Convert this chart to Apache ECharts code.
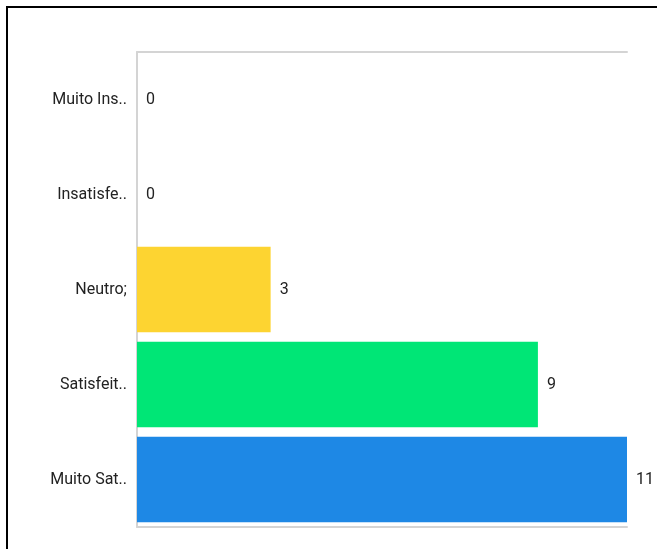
<!DOCTYPE html>
<html>
<head>
<meta charset="utf-8">
<script src="https://cdn.jsdelivr.net/npm/echarts@6/dist/echarts.min.js"></script>
<style>
html,body{margin:0;padding:0;width:657px;height:549px;overflow:hidden;background:#fff;}
#frame{position:absolute;left:6px;top:6px;width:700px;height:600px;border:2px solid #000;box-sizing:border-box;}
#chart{position:absolute;left:0;top:0;width:657px;height:549px;}
</style>
</head>
<body>
<div id="frame"></div>
<div id="chart"></div>
<script>
const categories = ["Muito Ins..", "Insatisfe..", "Neutro;", "Satisfeit..", "Muito Sat.."];
const values = [0, 0, 3, 9, 11];
const barColors = ["#E53935", "#FF8A65", "#FDD431", "#00E676", "#1E88E5"];

const chart = echarts.init(document.getElementById('chart'));
const axisLineStyle = {lineStyle: {color: '#d4d4d4', width: 2}};
chart.setOption({
  animation: false,
  grid: {left: 137, right: 30, top: 52, bottom: 22},
  xAxis: [
    {type: 'value', position: 'bottom', min: 0, max: 11, axisLine: {show: true, ...axisLineStyle}, axisTick: {show: false}, axisLabel: {show: false}, splitLine: {show: false}},
    {type: 'value', position: 'top', min: 0, max: 11, axisLine: {show: true, ...axisLineStyle}, axisTick: {show: false}, axisLabel: {show: false}, splitLine: {show: false}}
  ],
  yAxis: {
    type: 'category', data: categories, inverse: true,
    axisLine: {show: true, ...axisLineStyle},
    axisTick: {show: false},
    axisLabel: {color: '#222', fontSize: 16, fontFamily: 'Roboto', margin: 10, padding: [4, 0, 0, 0]}
  },
  series: [{
    type: 'bar',
    xAxisIndex: 0,
    barCategoryGap: '10%',
    data: values.map((v, i) => ({value: v, itemStyle: {color: barColors[i]}})),
    label: {show: true, position: 'right', distance: 9, color: '#222', fontSize: 16, fontFamily: 'Roboto', padding: [4, 0, 0, 0]}
  }]
});
</script>
</body>
</html>
